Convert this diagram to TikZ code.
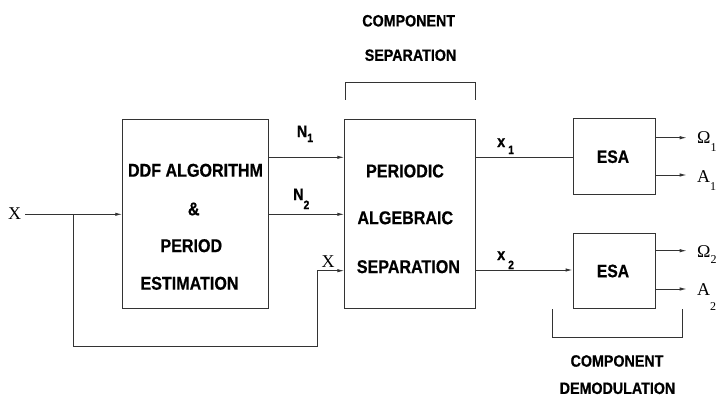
\documentclass[tikz,border=0pt]{standalone}
\usepackage{fontspec}
\usetikzlibrary{arrows.meta}
\newfontfamily\labsans{Liberation Sans}[FakeStretch=0.87, BoldFeatures={FakeBold=0.6}]
\newfontfamily\labserif{Liberation Serif}
% lowered subscript: #1 = drop in pt, #2 = text
\newcommand{\lsub}[2]{\raisebox{-#1pt}{\fontsize{12}{12}\selectfont #2}}

\tikzset{
  wire/.style={draw=black!80, line width=0.9pt},
  arr/.style={wire, -{Latex[length=7pt,width=3.4pt]}},
  block/.style={wire, rectangle, inner sep=0pt, minimum width=#1},
  blocktxt/.style={font=\labsans\bfseries\fontsize{18.5}{20}\selectfont, inner sep=0pt},
  esatxt/.style={font=\labsans\bfseries\fontsize{18}{20}\selectfont, inner sep=0pt},
  captxt/.style={font=\labsans\bfseries\fontsize{16.4}{18}\selectfont, inner sep=0pt},
  sigsans/.style={font=\labsans\bfseries\fontsize{16.5}{18}\selectfont, inner sep=0pt, anchor=base west},
  sigserif/.style={font=\labserif\fontsize{18}{20}\selectfont, inner sep=0pt, anchor=base west},
}

\begin{document}
\begin{tikzpicture}[x=1pt, y=-1pt]
\useasboundingbox (0,0) rectangle (718,396);

% processing blocks
\node[block=146pt, minimum height=189pt] (ddf) at (195.7,214.3) {};
\node[block=130.5pt, minimum height=188.5pt] (sep) at (410,214.1) {};
\node[block=82pt, minimum height=76pt] (esa1) at (614,156.2) {};
\node[block=82pt, minimum height=75pt] (esa2) at (614,270.8) {};

% block texts
\node[blocktxt] (t1) at (195.5,170.3) {DDF ALGORITHM};
\node[blocktxt] (t2) at (193.7,209) {\&};
\node[blocktxt] (t3) at (191.3,245.7) {PERIOD};
\node[blocktxt] (t4) at (189.5,283.3) {ESTIMATION};
\node[blocktxt] (s1) at (405,171) {PERIODIC};
\node[blocktxt] (s2) at (405.3,217.8) {ALGEBRAIC};
\node[blocktxt] (s3) at (408.4,266.7) {SEPARATION};
\node[esatxt] (e1) at (613,156.7) {ESA};
\node[esatxt] (e2) at (613,271) {ESA};

% group captions
\node[captxt] (c1) at (408.7,20.8) {COMPONENT};
\node[captxt] (c2) at (410.5,55.2) {SEPARATION};
\node[captxt] (c3) at (617,361) {COMPONENT};
\node[captxt] (c4) at (617.5,388.3) {DEMODULATION};

% brackets
\draw[wire] (345,100) -- (345,82) -- (475.7,82) -- (475.7,100);
\draw[wire] (552.7,309.3) -- (552.7,337.3) -- (682.7,337.3) -- (682.7,309.3);

% input and its branch
\node[sigserif] (xin) at (8,219.5) {X};
\coordinate (xstart) at (25,214.3);
\coordinate (br) at (73,214.3);
\coordinate (turn) at (317,346);
\coordinate (sepx) at (sep.west |- 0,270.7);
\draw[arr] (xstart) -- (ddf.west);
\draw[arr] (br) |- (turn) |- (sepx);
\node[sigserif] (xlab) at (321.5,267) {X};

% period estimates
\coordinate (n1a) at (ddf.east |- 0,157.3);
\coordinate (n1b) at (sep.west |- 0,157.3);
\coordinate (n2a) at (ddf.east |- 0,214.3);
\coordinate (n2b) at (sep.west |- 0,214.3);
\draw[arr] (n1a) -- (n1b);
\draw[arr] (n2a) -- (n2b);
\node[sigsans] (n1) at (296.7,137) {N\lsub{5}{1}};
\node[sigsans] (n2) at (293,200) {N\lsub{9}{2}};

% separated components
\coordinate (x1a) at (sep.east |- 0,157.3);
\coordinate (x1b) at (esa1.west |- 0,157.3);
\coordinate (x2a) at (sep.east |- 0,270);
\coordinate (x2b) at (esa2.west |- 0,270);
\draw[wire] (x1a) -- (x1b);
\draw[arr] (x2a) -- (x2b);
\node[sigsans] (x1) at (497,147) {x\hspace{3pt}\lsub{7}{1}};
\node[sigsans] (x2) at (497,260) {x\hspace{3pt}\lsub{9}{2}};

% demodulated outputs
\coordinate (o1a) at (esa1.east |- 0,137.7);
\coordinate (o1b) at (686.7,137.7);
\coordinate (o2a) at (esa1.east |- 0,175);
\coordinate (o2b) at (686.7,175);
\coordinate (o3a) at (esa2.east |- 0,250.7);
\coordinate (o3b) at (686.7,250.7);
\coordinate (o4a) at (esa2.east |- 0,289);
\coordinate (o4b) at (686.7,289);
\draw[arr] (o1a) -- (o1b);
\draw[arr] (o2a) -- (o2b);
\draw[arr] (o3a) -- (o3b);
\draw[arr] (o4a) -- (o4b);
\node[sigserif] (om1) at (697,143.5) {Ω\lsub{8}{1}};
\node[sigserif] (a1) at (697,182) {A\lsub{9}{1}};
\node[sigserif] (om2) at (697,257) {Ω\lsub{6}{2}};
\node[sigserif] (a2) at (697,295) {A\lsub{15}{2}};
\end{tikzpicture}
\end{document}
